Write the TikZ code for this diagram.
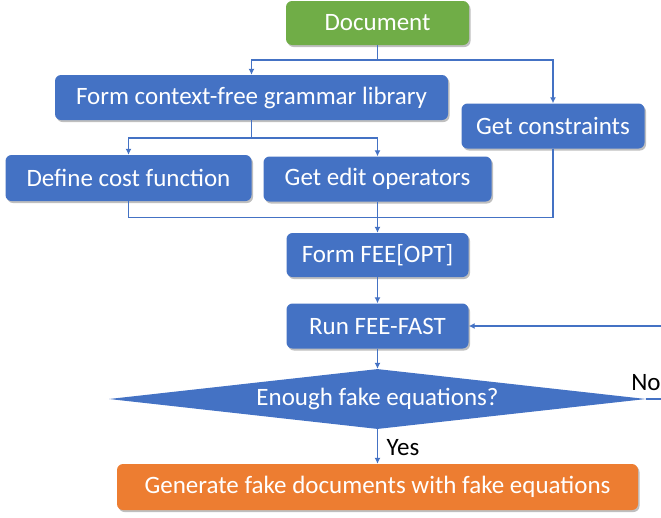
\documentclass[tikz,border=0pt]{standalone}
\usepackage{fontspec}
\setmainfont{Carlito}
\usetikzlibrary{arrows.meta,shapes.geometric,shadows}
\definecolor{bleu}{HTML}{4472C4}
\definecolor{vert}{HTML}{70AD47}
\definecolor{orange}{HTML}{ED7D31}
\begin{document}
\begin{tikzpicture}[x=1pt,y=-1pt]
% Styles
\tikzstyle{boite}=[rectangle,rounded corners=6pt,fill=bleu,text=white,inner sep=0pt,
  font=\fontsize{25}{30}\selectfont,
  drop shadow={shadow xshift=1.5pt,shadow yshift=-2pt,opacity=0.25,fill=black}]
\tikzstyle{ligne}=[bleu,line width=1.6pt]
\tikzstyle{fleche}=[ligne,->,>={Latex[length=6pt,width=6pt]}]
\tikzstyle{etiquette}=[text=black,inner sep=0pt,font=\fontsize{25}{30}\selectfont]
% Cadre de l'image
\clip (0,0) rectangle (661,517);
% Boites
\node[boite,fill=vert,minimum width=183pt,minimum height=44pt] (doc) at (377.5,23) {Document};
\node[boite,minimum width=393pt,minimum height=45pt] (cfg) at (251.5,97.5) {Form context-free grammar library};
\node[boite,minimum width=183pt,minimum height=45pt] (cons) at (553,126) {Get constraints};
\node[boite,minimum width=246pt,minimum height=46pt] (cost) at (128.5,178) {Define cost function};
\node[boite,minimum width=228pt,minimum height=45pt] (edit) at (377.5,179) {Get edit operators};
\node[boite,minimum width=182pt,minimum height=44pt] (opt) at (377.5,255) {Form FEE[OPT]};
\node[boite,minimum width=182pt,minimum height=45pt] (fast) at (377.5,326) {Run FEE-FAST};
\node[diamond,aspect=9,fill=bleu,text=white,inner sep=0pt,
  font=\fontsize{25}{30}\selectfont,minimum width=537pt,minimum height=60pt] (dec) at (377.5,399) {Enough fake equations?};
\node[boite,fill=orange,minimum width=521pt,minimum height=46pt] (gen) at (377.5,487) {Generate fake documents with fake equations};
% Points de branchement
\coordinate (haut) at (377.5,60);
\coordinate (milieu) at (251.5,138);
\coordinate (bas) at (377.5,217.5);
\coordinate (boucle) at (700,399);
% Liaisons
\draw[ligne] (doc.south) -- (haut);
\draw[fleche] (haut) -| (cfg.north);
\draw[fleche] (haut) -| (cons.north);
\draw[ligne] (cfg.south) -- (milieu);
\draw[fleche] (milieu) -| (cost.north);
\draw[fleche] (milieu) -| (edit.north);
\draw[ligne] (cost.south) |- (bas);
\draw[ligne] (cons.south) |- (bas);
\draw[fleche] (edit.south) -- (opt.north);
\draw[fleche] (opt.south) -- (fast.north);
\draw[fleche] (fast.south) -- (dec.north);
\draw[fleche] (dec.south) -- (gen.north);
\draw[fleche] (dec.east) -- (boucle) |- (fast.east);
% Etiquettes
\node[etiquette] (non) at (646,383) {No};
\node[etiquette] (oui) at (403,448) {Yes};
\end{tikzpicture}
\end{document}
